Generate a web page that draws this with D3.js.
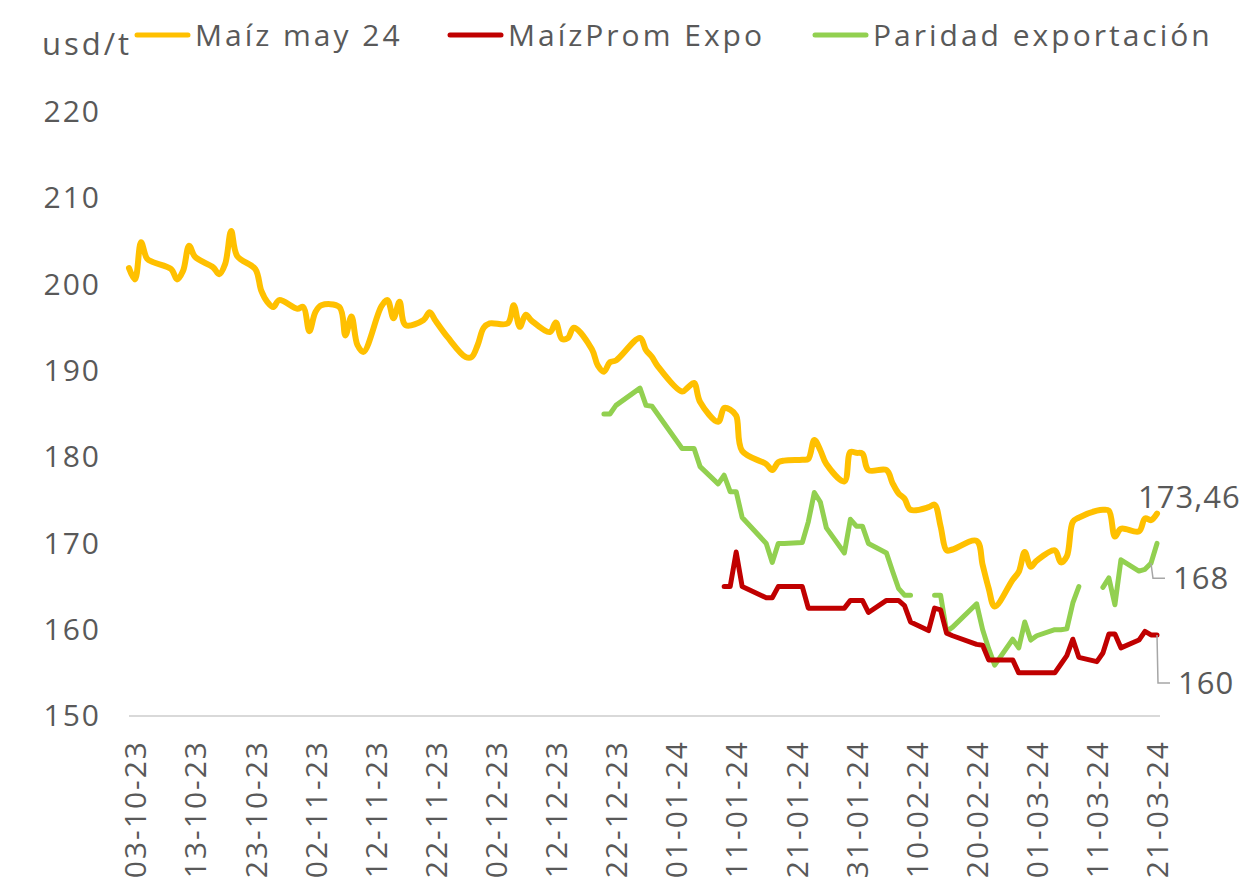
<!DOCTYPE html>
<html>
<head>
<meta charset="utf-8">
<script src="https://cdn.jsdelivr.net/npm/d3@7"></script>
<style>
  html, body { margin: 0; padding: 0; background: #ffffff; }
  svg { display: block; }
  text { font-family: "Open Sans", "Noto Sans", sans-serif; fill: #595959; }
</style>
</head>
<body>
<svg id="chart" width="1245" height="887"></svg>
<script>
// ---------------- DATA ----------------
const unitLabel = "usd/t";
const seriesNames = ["Maíz may 24", "MaízProm Expo", "Paridad exportación"];
const yTicks = [150, 160, 170, 180, 190, 200, 210, 220];
const xTickDates = ["2023-10-03","2023-10-13","2023-10-23","2023-11-02","2023-11-12","2023-11-22",
  "2023-12-02","2023-12-12","2023-12-22","2024-01-01","2024-01-11","2024-01-21","2024-01-31",
  "2024-02-10","2024-02-20","2024-03-01","2024-03-11","2024-03-21"];

// Maíz may 24 (usd/t)
const maizMay24 = [
  ["2023-10-02",201.9],["2023-10-03",200.6],["2023-10-04",204.9],["2023-10-05",203.0],["2023-10-06",202.6],
  ["2023-10-09",201.8],["2023-10-10",200.6],["2023-10-11",201.6],["2023-10-12",204.5],["2023-10-13",203.2],
  ["2023-10-16",202.0],["2023-10-17",201.2],["2023-10-18",202.4],["2023-10-19",206.2],["2023-10-20",203.3],
  ["2023-10-23",201.8],["2023-10-24",199.3],["2023-10-25",198.0],["2023-10-26",197.4],["2023-10-27",198.2],
  ["2023-10-30",197.2],["2023-10-31",197.4],["2023-11-01",194.6],["2023-11-02",196.8],["2023-11-03",197.6],
  ["2023-11-06",197.4],["2023-11-07",194.1],["2023-11-08",196.3],["2023-11-09",193.0],["2023-11-10",192.2],
  ["2023-11-13",197.5],["2023-11-14",198.2],["2023-11-15",196.1],["2023-11-16",198.0],["2023-11-17",195.3],
  ["2023-11-20",195.9],["2023-11-21",196.8],["2023-11-22",195.8],["2023-11-24",193.9],
  ["2023-11-27",191.6],["2023-11-28",191.6],["2023-11-29",193.0],["2023-11-30",195.0],["2023-12-01",195.5],
  ["2023-12-04",195.5],["2023-12-05",197.6],["2023-12-06",195.1],["2023-12-07",196.5],["2023-12-08",195.8],
  ["2023-12-11",194.5],["2023-12-12",195.6],["2023-12-13",193.7],["2023-12-14",193.8],["2023-12-15",195.0],
  ["2023-12-18",192.5],["2023-12-19",190.6],["2023-12-20",189.9],["2023-12-21",191.0],["2023-12-22",191.2],
  ["2023-12-26",193.8],["2023-12-27",192.4],["2023-12-28",191.6],["2023-12-29",190.5],
  ["2024-01-02",187.6],["2024-01-03",188.1],["2024-01-04",188.6],["2024-01-05",186.4],
  ["2024-01-08",184.1],["2024-01-09",185.7],["2024-01-10",185.5],["2024-01-11",184.8],["2024-01-12",180.7],
  ["2024-01-16",179.2],["2024-01-17",178.5],["2024-01-18",179.4],["2024-01-19",179.6],
  ["2024-01-22",179.7],["2024-01-23",179.8],["2024-01-24",182.0],["2024-01-25",180.8],["2024-01-26",179.2],
  ["2024-01-29",177.2],["2024-01-30",180.6],["2024-01-31",180.5],["2024-02-01",180.4],["2024-02-02",178.5],
  ["2024-02-05",178.5],["2024-02-06",177.0],["2024-02-07",175.8],["2024-02-08",175.2],["2024-02-09",173.9],
  ["2024-02-12",174.2],["2024-02-13",174.5],["2024-02-14",172.0],["2024-02-15",169.2],["2024-02-16",169.3],
  ["2024-02-20",170.3],["2024-02-21",167.5],["2024-02-22",164.8],["2024-02-23",162.7],
  ["2024-02-26",165.8],["2024-02-27",166.7],["2024-02-28",169.0],["2024-02-29",167.3],["2024-03-01",168.0],
  ["2024-03-04",169.2],["2024-03-05",167.8],["2024-03-06",168.5],["2024-03-07",172.5],["2024-03-08",173.0],
  ["2024-03-11",173.8],["2024-03-12",173.9],["2024-03-13",173.8],["2024-03-14",170.8],["2024-03-15",171.7],
  ["2024-03-18",171.4],["2024-03-19",172.9],["2024-03-20",172.7],["2024-03-21",173.46]
];

// MaízProm Expo (usd/t)
const maizPromExpo = [
  ["2024-01-09",165.0],["2024-01-10",165.0],["2024-01-11",169.0],["2024-01-12",165.0],
  ["2024-01-16",163.7],["2024-01-17",163.7],["2024-01-18",165.0],["2024-01-19",165.0],
  ["2024-01-22",165.0],["2024-01-23",162.5],["2024-01-29",162.5],["2024-01-30",163.4],
  ["2024-01-31",163.4],["2024-02-01",163.4],["2024-02-02",162.0],["2024-02-05",163.4],
  ["2024-02-06",163.4],["2024-02-07",163.4],["2024-02-08",162.8],["2024-02-09",160.9],
  ["2024-02-12",159.9],["2024-02-13",162.5],["2024-02-14",162.3],["2024-02-15",159.6],
  ["2024-02-16",159.3],["2024-02-20",158.3],["2024-02-21",158.2],["2024-02-22",156.5],
  ["2024-02-23",156.5],["2024-02-26",156.5],["2024-02-27",155.0],["2024-03-04",155.0],
  ["2024-03-05",156.0],["2024-03-06",157.0],["2024-03-07",158.9],["2024-03-08",156.8],
  ["2024-03-11",156.3],["2024-03-12",157.3],["2024-03-13",159.5],["2024-03-14",159.5],
  ["2024-03-15",157.9],["2024-03-18",158.8],["2024-03-19",159.8],["2024-03-20",159.4],
  ["2024-03-21",159.4]
];

// Paridad exportación (usd/t), null = no data
const paridadExport = [
  ["2023-12-20",185.0],["2023-12-21",185.0],["2023-12-22",186.0],["2023-12-26",188.0],
  ["2023-12-27",186.0],["2023-12-28",185.9],["2024-01-02",181.0],["2024-01-04",181.0],
  ["2024-01-05",178.9],["2024-01-08",176.9],["2024-01-09",177.9],["2024-01-10",176.0],
  ["2024-01-11",176.0],["2024-01-12",173.0],["2024-01-16",170.0],["2024-01-17",167.8],
  ["2024-01-18",170.0],["2024-01-19",170.0],["2024-01-22",170.1],["2024-01-23",172.5],
  ["2024-01-24",175.9],["2024-01-25",174.8],["2024-01-26",171.8],["2024-01-29",168.9],
  ["2024-01-30",172.8],["2024-01-31",172.0],["2024-02-01",172.0],["2024-02-02",170.0],
  ["2024-02-05",168.9],["2024-02-06",166.8],["2024-02-07",164.8],["2024-02-08",164.0],
  ["2024-02-09",164.0],["2024-02-12",null],["2024-02-13",164.0],["2024-02-14",164.0],
  ["2024-02-15",159.8],["2024-02-16",160.3],["2024-02-20",163.0],["2024-02-21",160.0],
  ["2024-02-22",157.8],["2024-02-23",155.9],["2024-02-26",158.9],["2024-02-27",157.9],
  ["2024-02-28",160.9],["2024-02-29",158.8],["2024-03-01",159.3],["2024-03-04",160.0],
  ["2024-03-05",160.0],["2024-03-06",160.1],["2024-03-07",163.1],["2024-03-08",165.0],
  ["2024-03-11",null],["2024-03-12",164.9],["2024-03-13",166.0],["2024-03-14",162.9],
  ["2024-03-15",168.1],["2024-03-18",166.8],["2024-03-19",167.0],["2024-03-20",167.7],
  ["2024-03-21",170.0]
];

// End-of-series value labels
const valueLabels = ["173,46", "168", "160"];

// ---------------- CHART ----------------
const parse = d3.utcParse("%Y-%m-%d");
const fmt = d3.utcFormat("%d-%m-%y");
const colors = ["#FFC000", "#C00000", "#92D050"];

const svg = d3.select("#chart");

const x = d3.scaleUtc()
  .domain([parse("2023-10-03"), parse("2024-03-21")])
  .range([135, 1157]);
const y = d3.scaleLinear().domain([150, 220]).range([716, 112]);

// Axis line
svg.append("line")
  .attr("x1", 129).attr("x2", 1160)
  .attr("y1", y(150)).attr("y2", y(150))
  .attr("stroke", "#d9d9d9").attr("stroke-width", 2);

// Y axis labels
const yAxis = d3.axisLeft(y).tickValues(yTicks).tickSize(0).tickPadding(0);
const yG = svg.append("g").attr("transform", "translate(101,0)").call(yAxis);
yG.select(".domain").remove();
yG.selectAll("text")
  .attr("font-size", 30).attr("fill", "#595959")
  .style("letter-spacing", "2px")
  .attr("font-family", "'Open Sans', sans-serif");

// X axis labels (rotated)
const xAxis = d3.axisBottom(x).tickValues(xTickDates.map(parse)).tickFormat(fmt).tickSize(0);
const xG = svg.append("g").attr("transform", `translate(0,${y(150)})`).call(xAxis);
xG.select(".domain").remove();
xG.selectAll("text")
  .attr("font-size", 30).attr("fill", "#595959")
  .attr("font-family", "'Open Sans', sans-serif")
  .style("letter-spacing", "2px")
  .attr("text-anchor", "end")
  .attr("transform", "rotate(-90)")
  .attr("x", -24).attr("y", 0).attr("dy", "0.36em");

// Lines
const toPts = arr => arr.map(d => ({ date: parse(d[0]), v: d[1] }));
const lineSmooth = d3.line()
  .defined(d => d.v !== null)
  .x(d => x(d.date)).y(d => y(d.v))
  .curve(d3.curveCatmullRom.alpha(0.5));
const lineStraight = d3.line()
  .defined(d => d.v !== null)
  .x(d => x(d.date)).y(d => y(d.v))
  .curve(d3.curveLinear);

svg.append("path").datum(toPts(maizMay24))
  .attr("d", lineSmooth).attr("fill", "none")
  .attr("stroke", colors[0]).attr("stroke-width", 6)
  .attr("stroke-linejoin", "round").attr("stroke-linecap", "round");
svg.append("path").datum(toPts(paridadExport))
  .attr("d", lineStraight).attr("fill", "none")
  .attr("stroke", colors[2]).attr("stroke-width", 5)
  .attr("stroke-linejoin", "round").attr("stroke-linecap", "round");
svg.append("path").datum(toPts(maizPromExpo))
  .attr("d", lineStraight).attr("fill", "none")
  .attr("stroke", colors[1]).attr("stroke-width", 5)
  .attr("stroke-linejoin", "round").attr("stroke-linecap", "round");

// Value labels
const lastM = maizMay24[maizMay24.length - 1];
svg.append("text")
  .attr("x", x(parse(lastM[0])) - 19).attr("y", y(lastM[1]) - 6)
  .attr("text-anchor", "start")
  .attr("font-size", 31).attr("fill", "#404040").style("letter-spacing", "1px")
  .text(valueLabels[0]);

// Leader for Paridad
const pPt = paridadExport[paridadExport.length - 2];
const px0 = x(parse(pPt[0])), py0 = y(pPt[1]);
svg.append("path")
  .attr("d", `M${px0},${py0} L${px0 + 2},${py0 + 15} L${px0 + 14},${py0 + 15}`)
  .attr("fill", "none").attr("stroke", "#a6a6a6").attr("stroke-width", 1.5);
svg.append("text")
  .attr("x", px0 + 22).attr("y", py0 + 15).attr("dy", "0.36em")
  .attr("font-size", 31).attr("fill", "#404040").style("letter-spacing", "1px")
  .text(valueLabels[1]);

// Leader for MaízProm
const rPt = maizPromExpo[maizPromExpo.length - 1];
const rx0 = x(parse(rPt[0])), ry0 = y(rPt[1]);
svg.append("path")
  .attr("d", `M${rx0},${ry0} L${rx0 + 1},${ry0 + 48} L${rx0 + 13},${ry0 + 48}`)
  .attr("fill", "none").attr("stroke", "#a6a6a6").attr("stroke-width", 1.5);
svg.append("text")
  .attr("x", rx0 + 21).attr("y", ry0 + 48).attr("dy", "0.36em")
  .attr("font-size", 31).attr("fill", "#404040").style("letter-spacing", "1px")
  .text(valueLabels[2]);

// Unit label
svg.append("text")
  .attr("x", 42).attr("y", 55)
  .attr("font-size", 31).attr("fill", "#595959").style("letter-spacing", "3px")
  .text(unitLabel);

// Legend
const legendX = [135, 448, 813];
const legend = svg.append("g");
seriesNames.forEach((name, i) => {
  const g = legend.append("g").attr("transform", `translate(${legendX[i]},35)`);
  g.append("line").attr("x1", 2).attr("x2", 53).attr("y1", 0).attr("y2", 0)
    .attr("stroke", colors[i]).attr("stroke-width", 5).attr("stroke-linecap", "round");
  g.append("text").attr("x", 60).attr("y", 0).attr("dy", "0.36em")
    .attr("font-size", 30).attr("fill", "#595959").style("letter-spacing", "3px")
    .text(name);
});
</script>
</body>
</html>
